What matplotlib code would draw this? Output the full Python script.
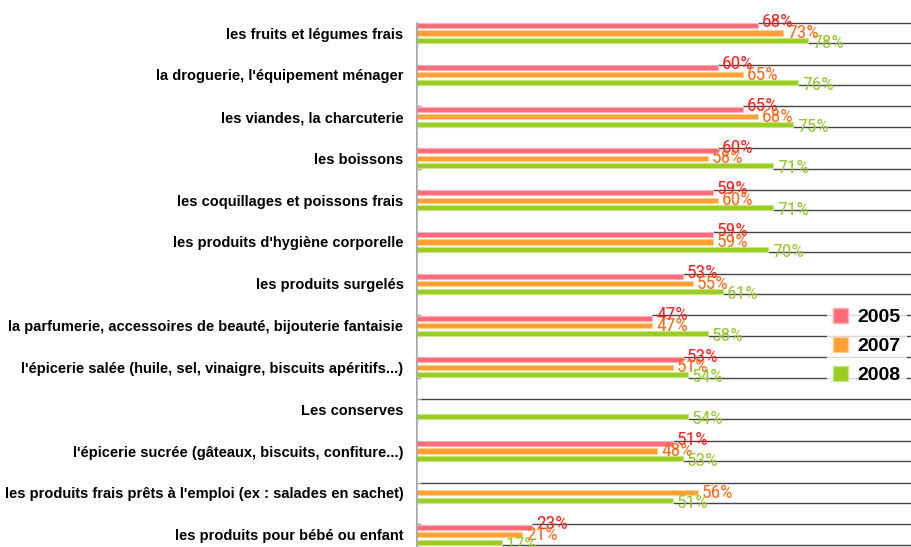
import matplotlib
matplotlib.use("Agg")
import matplotlib.pyplot as plt
from matplotlib.patches import Patch
from matplotlib import font_manager

categories = [
    "les fruits et légumes frais",
    "la droguerie, l'équipement ménager",
    "les viandes, la charcuterie",
    "les boissons",
    "les coquillages et poissons frais",
    "les produits d'hygiène corporelle",
    "les produits surgelés",
    "la parfumerie, accessoires de beauté, bijouterie fantaisie",
    "l'épicerie salée (huile, sel, vinaigre, biscuits apéritifs...)",
    "Les conserves",
    "l'épicerie sucrée (gâteaux, biscuits, confiture...)",
    "les produits frais prêts à l'emploi (ex : salades en sachet)",
    "les produits pour bébé ou enfant",
]
v2005 = [68, 60, 65, 60, 59, 59, 53, 47, 53, None, 51, None, 23]
v2007 = [73, 65, 68, 58, 60, 59, 55, 47, 51, None, 48, 56, 21]
v2008 = [78, 76, 75, 71, 71, 70, 61, 58, 54, 54, 53, 51, 17]
years = ["2005", "2007", "2008"]

bar_colors = ["#FF6B78", "#FFA033", "#9ACD22"]
edge_colors = ["#FFB0B8", "#FFD090", "#C8E680"]
text_colors = ["#FF2020", "#FF6A1A", "#99C832"]

# choose a narrow font for the value labels
cond_prop = None
for fam, size in [("Liberation Sans Narrow", 15.0), ("Arial Narrow", 15.0),
                  ("Roboto Condensed", 14.0), ("DejaVu Sans Condensed", 12.0)]:
    try:
        p = font_manager.FontProperties(family=fam, style="normal", weight="normal")
        font_manager.findfont(p, fallback_to_default=False)
        p.set_size(size)
        cond_prop = p
        break
    except Exception:
        continue
if cond_prop is None:
    cond_prop = font_manager.FontProperties(family="Liberation Sans", size=12.5)

W, H = 911, 547
fig = plt.figure(figsize=(W / 100, H / 100), dpi=100)
left_px = 416
ax = fig.add_axes([left_px / W, 0, (W - left_px) / W, 1])
px_per_unit = 5.03
ax.set_xlim(0, (W - left_px) / px_per_unit)
spacing = 41.8
c0 = 33
ax.set_ylim((H - c0) / spacing, -c0 / spacing)

pitch = 0.18
bh = 0.12
offsets = [-pitch, 0, pitch]
dys = [-0.08, 0.0, 0.06]
xmax = (W - left_px) / px_per_unit
edge = 0.245

for i, cat in enumerate(categories):
    vals = [v2005[i], v2007[i], v2008[i]]
    for k, v in enumerate(vals):
        if v is None:
            continue
        y = i + offsets[k]
        ax.barh(y, v, height=bh, color=bar_colors[k], edgecolor=edge_colors[k], linewidth=0.8, zorder=3)
        ax.text(v + 0.8, y + dys[k], f"{v}%", color=text_colors[k], fontproperties=cond_prop,
                va="center", ha="left", zorder=5)
    top_start = v2005[i] if v2005[i] is not None else 0.8
    bot_start = v2008[i]
    ax.hlines(i - edge, top_start, xmax, color="#444444", linewidth=1.0, zorder=1)
    ax.hlines(i + edge, bot_start, xmax, color="#444444", linewidth=1.0, zorder=1)
    ax.hlines([i - edge, i + edge], 0, 1.0, color="#A0A0A0", linewidth=1.0, zorder=2)

ax.vlines(0, -edge - 0.02, 12.4, color="#A8A8A8", linewidth=1.8, zorder=4)

for s in ax.spines.values():
    s.set_visible(False)
ax.set_xticks([])
ax.set_yticks(range(len(categories)))
ax.set_yticklabels(categories, fontsize=10.5, fontweight="bold", family="Liberation Sans")
ax.tick_params(axis="y", length=0, pad=9)

handles = [Patch(facecolor=bar_colors[k], edgecolor=edge_colors[k], label=years[k]) for k in range(3)]
leg = fig.legend(handles=handles, loc="center left", bbox_to_anchor=(817 / W, 1 - 346 / H),
                 frameon=True, fancybox=False, handlelength=0.8, handleheight=0.8,
                 handletextpad=0.5, labelspacing=0.55, borderpad=0.3,
                 prop={"family": "Liberation Sans", "weight": "bold", "size": 14})
leg.get_frame().set_facecolor("white")
leg.get_frame().set_edgecolor("none")
leg.set_zorder(10)

fig.savefig("out.png", dpi=100)
